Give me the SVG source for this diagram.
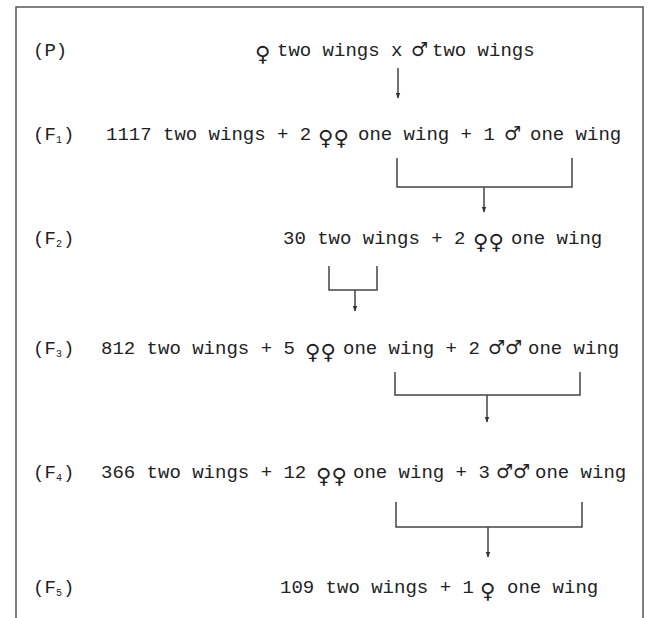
<svg xmlns="http://www.w3.org/2000/svg" width="650" height="618" viewBox="0 0 650 618">
<defs>
<style>
.t{font-family:"Liberation Mono","DejaVu Sans Mono",monospace;font-size:19px;fill:#222}
.s{font-family:"DejaVu Sans",sans-serif;font-size:19px;fill:#222}
.f{font-family:"DejaVu Sans",sans-serif;font-size:21px;fill:#222}
.sub{font-family:"Liberation Mono",monospace;font-size:10px;fill:#222}
.ln{stroke:#444;stroke-width:1.5;fill:none}
.frame{stroke:#555;stroke-width:1.5;fill:none}
</style>
<marker id="ah" viewBox="0 0 10 10" refX="9" refY="5" markerWidth="6" markerHeight="6" orient="auto" markerUnits="userSpaceOnUse">
<path d="M0,1 L10,5 L0,9 z" fill="#333"/>
</marker>
</defs>
<rect width="650" height="618" fill="#fff"/>
<path class="frame" d="M16,618 V7 H643 V618"/>

<g id="P">
<text class="t" x="33" y="56">(P)</text>
<text class="f" x="255" y="61">♀</text>
<text class="t" x="277" y="56">two wings x</text>
<text class="s" x="411" y="56">♂</text>
<text class="t" x="432" y="56">two wings</text>
</g>

<g id="F1">
<text class="t" x="33" y="140">(F</text><text class="sub" x="56" y="143">1</text><text class="t" x="63" y="140">)</text>
<text class="t" x="106" y="140">1117 two wings + 2</text>
<text class="f" x="318" y="145">♀♀</text>
<text class="t" x="358" y="140">one wing + 1</text>
<text class="s" x="504" y="140">♂</text>
<text class="t" x="530" y="140">one wing</text>
</g>

<g id="F2">
<text class="t" x="33" y="244">(F</text><text class="sub" x="56" y="247">2</text><text class="t" x="63" y="244">)</text>
<text class="t" x="283" y="244">30 two wings + 2</text>
<text class="f" x="473" y="249">♀♀</text>
<text class="t" x="511" y="244">one wing</text>
</g>

<g id="F3">
<text class="t" x="33" y="354">(F</text><text class="sub" x="56" y="357">3</text><text class="t" x="63" y="354">)</text>
<text class="t" x="101" y="354">812 two wings + 5</text>
<text class="f" x="305" y="359">♀♀</text>
<text class="t" x="343" y="354">one wing + 2</text>
<text class="s" x="488" y="354">♂♂</text>
<text class="t" x="528" y="354">one wing</text>
</g>

<g id="F4">
<text class="t" x="33" y="478">(F</text><text class="sub" x="56" y="481">4</text><text class="t" x="63" y="478">)</text>
<text class="t" x="101" y="478">366 two wings + 12</text>
<text class="f" x="316" y="483">♀♀</text>
<text class="t" x="353" y="478">one wing + 3</text>
<text class="s" x="496" y="478">♂♂</text>
<text class="t" x="535" y="478">one wing</text>
</g>

<g id="F5">
<text class="t" x="33" y="593">(F</text><text class="sub" x="56" y="596">5</text><text class="t" x="63" y="593">)</text>
<text class="t" x="280" y="593">109 two wings + 1</text>
<text class="f" x="480" y="598">♀</text>
<text class="t" x="507" y="593">one wing</text>
</g>

<g id="connectors">
<path class="ln" d="M398,68 V98" marker-end="url(#ah)"/>
<path class="ln" d="M397,158 V187 H572 V158"/>
<path class="ln" d="M484,187 V212" marker-end="url(#ah)"/>
<path class="ln" d="M329,266 V290 H377 V266"/>
<path class="ln" d="M355,290 V311" marker-end="url(#ah)"/>
<path class="ln" d="M395,372 V395 H580 V372"/>
<path class="ln" d="M487,395 V422" marker-end="url(#ah)"/>
<path class="ln" d="M396,502 V527 H582 V502"/>
<path class="ln" d="M488,527 V557" marker-end="url(#ah)"/>
</g>
</svg>
